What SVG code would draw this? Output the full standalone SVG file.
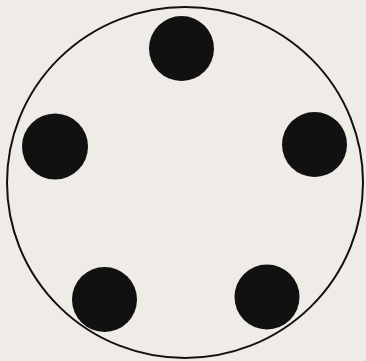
<svg xmlns="http://www.w3.org/2000/svg" width="366" height="361" viewBox="0 0 366 361">
<style>
.dot{fill:#111111}
.ring{fill:none;stroke:#111111;stroke-width:2}
</style>
<rect width="366" height="361" fill="#efebe6"/>
<ellipse class="ring" cx="185" cy="182.5" rx="178" ry="175.5"/>
<g id="dot-top"><circle class="dot" cx="181.5" cy="48.5" r="32.5"/></g>
<g id="dot-left"><circle class="dot" cx="55" cy="146.5" r="33"/></g>
<g id="dot-right"><circle class="dot" cx="314.5" cy="144.5" r="32.5"/></g>
<g id="dot-bottom-left"><circle class="dot" cx="104.5" cy="299.5" r="32.5"/></g>
<g id="dot-bottom-right"><circle class="dot" cx="267" cy="297" r="32.5"/></g>
<g id="connectors"></g>
</svg>
